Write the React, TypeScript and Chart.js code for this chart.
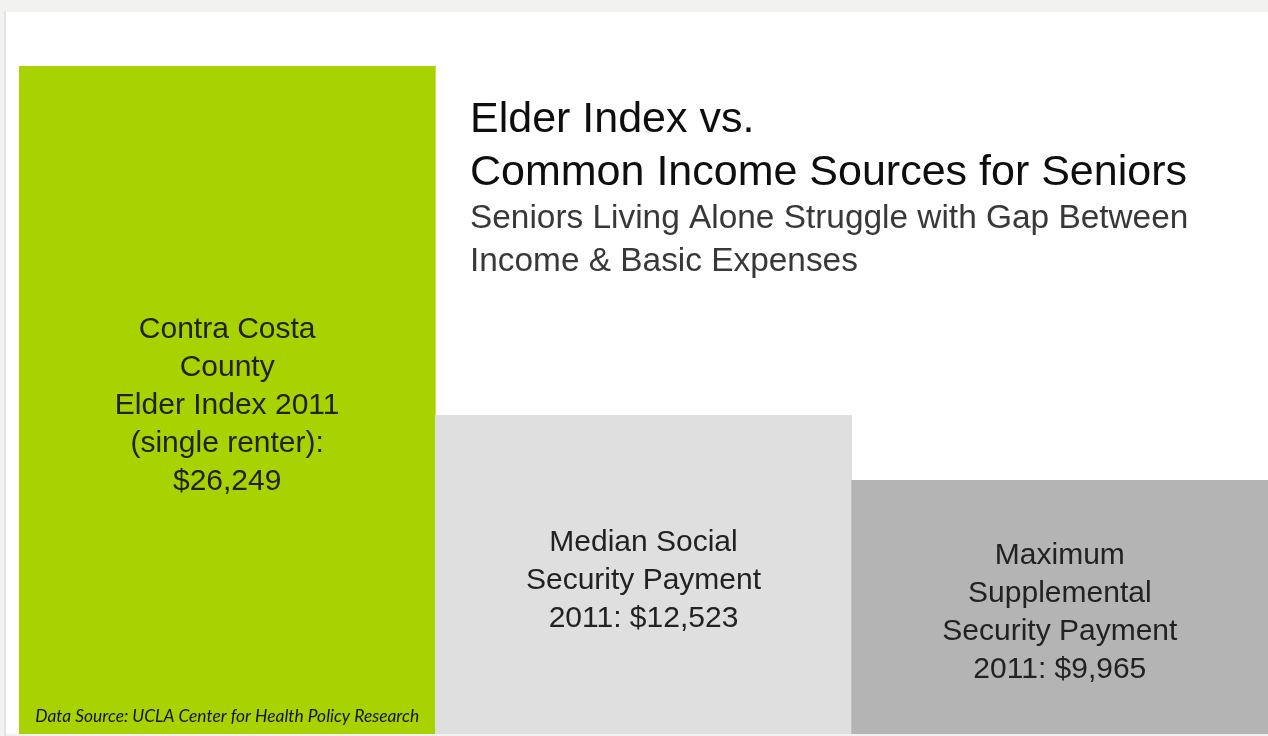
import React, { useEffect, useRef } from "react";
import { Chart, registerables } from "chart.js";

Chart.register(...registerables);

const categories = [
  "Contra Costa County Elder Index 2011 (single renter)",
  "Median Social Security Payment 2011",
  "Maximum Supplemental Security Payment 2011",
];
const values = [26249, 12523, 9965];
const barLabelLines = [
  ["Contra Costa", "County", "Elder Index 2011", "(single renter):", "$26,249"],
  ["Median Social", "Security Payment", "2011: $12,523"],
  ["Maximum", "Supplemental", "Security Payment", "2011: $9,965"],
];
const titleLines = ["Elder Index vs.", "Common Income Sources for Seniors"];
const subtitleLines = ["Seniors Living Alone Struggle with Gap Between", "Income & Basic Expenses"];
const sourceNote = "Data Source: UCLA Center for Health Policy Research";

const barColors = ["#A9D300", "#DFDFDF", "#B4B4B4"];

const W = 1268;
const H = 736;

const decorPlugin = {
  id: "decor",
  beforeDraw(chart: any) {
    const ctx = chart.ctx;
    ctx.save();
    ctx.fillStyle = "#F2F2F1";
    ctx.fillRect(0, 0, W, H);
    ctx.fillStyle = "#E4E4E4";
    ctx.fillRect(4, 11, 2, H - 11);
    ctx.fillStyle = "#FFFFFF";
    ctx.fillRect(6, 12, W - 6, 722);
    ctx.restore();
  },
  afterDatasetsDraw(chart: any) {
    const ctx = chart.ctx;
    const meta = chart.getDatasetMeta(0);
    ctx.save();
    // title
    ctx.textAlign = "left";
    ctx.textBaseline = "alphabetic";
    ctx.fillStyle = "#0E0E0E";
    ctx.font = '43px "Liberation Sans", Arial, sans-serif';
    const titleBase = [132, 185];
    titleLines.forEach((t, i) => ctx.fillText(t, 470, titleBase[i], 720));
    ctx.fillStyle = "#383838";
    ctx.font = '33.4px "Liberation Sans", Arial, sans-serif';
    const subBase = [228, 271];
    subtitleLines.forEach((t, i) => ctx.fillText(t, 470, subBase[i], 720));

    // bar labels
    ctx.textAlign = "center";
    ctx.textBaseline = "middle";
    ctx.fillStyle = "#222222";
    ctx.font = '30px "Liberation Sans", Arial, sans-serif';
    const lh = 38;
    meta.data.forEach((bar: any, i: number) => {
      const lines = barLabelLines[i];
      const mid = (bar.y + bar.base) / 2 + 6;
      const start = mid - ((lines.length - 1) * lh) / 2;
      lines.forEach((ln, j) => ctx.fillText(ln, bar.x, start + j * lh));
    });

    // source note
    const b0 = meta.data[0];
    ctx.font = 'italic 17.4px Lato, "Open Sans", sans-serif';
    ctx.fillStyle = "#141414";
    ctx.textBaseline = "alphabetic";
    ctx.fillText(sourceNote, b0.x, 722, 384);
    ctx.restore();
  },
};

export default function App() {
  const ref = useRef<HTMLCanvasElement>(null);
  useEffect(() => {
    if (!ref.current) return;
    const chart = new Chart(ref.current, {
      type: "bar",
      data: {
        labels: categories,
        datasets: [
          {
            data: values,
            backgroundColor: barColors,
            borderWidth: 0,
            categoryPercentage: 1,
            barPercentage: 1,
          },
        ],
      },
      options: {
        responsive: false,
        animation: false,
        layout: { padding: { top: 66, bottom: 2, left: 19, right: 0 } },
        plugins: {
          legend: { display: false },
          tooltip: { enabled: false },
          title: { display: false },
        },
        scales: {
          x: { display: false },
          y: { display: false, min: 0, max: Math.max(...values) },
        },
      },
      plugins: [decorPlugin],
    });
    return () => chart.destroy();
  }, []);
  return (
    <div style={{ position: "fixed", left: 0, top: 0, width: W, height: H, background: "#fff" }}>
      <canvas ref={ref} width={W} height={H} style={{ display: "block", width: W, height: H }} />
    </div>
  );
}
